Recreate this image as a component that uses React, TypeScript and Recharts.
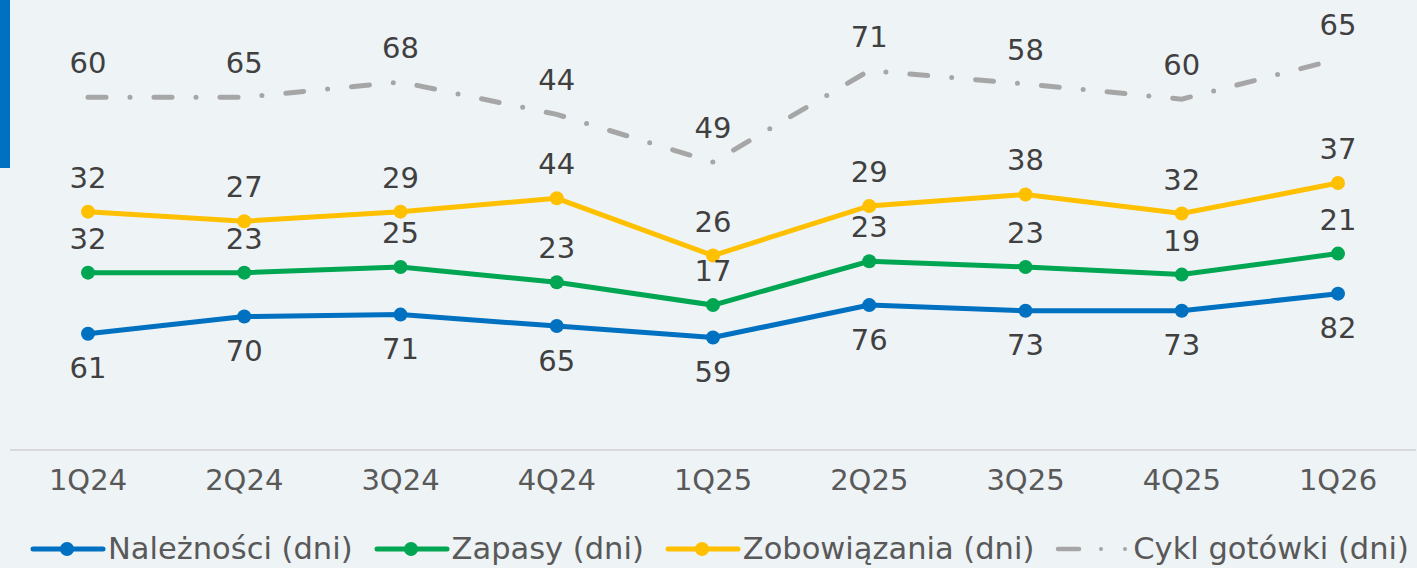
import React from "react";
import { AreaChart, Area, XAxis, YAxis, LabelList, Legend } from "recharts";

const quarters = ["1Q24", "2Q24", "3Q24", "4Q24", "1Q25", "2Q25", "3Q25", "4Q25", "1Q26"];
const receivables = [61, 70, 71, 65, 59, 76, 73, 73, 82];
const inventory = [32, 23, 25, 23, 17, 23, 23, 19, 21];
const payables = [32, 27, 29, 44, 26, 29, 38, 32, 37];
const cashCycle = [60, 65, 68, 44, 49, 71, 58, 60, 65];

const FONT = "'DejaVu Sans', sans-serif";
const BG = "#eef3f6";
const BLUE = "#0070c0";
const GREEN = "#00a651";
const YELLOW = "#ffc000";
const GRAY = "#a6a6a6";

const data = quarters.map((q, i) => ({
  q,
  rec: receivables[i],
  inv: inventory[i],
  pay: payables[i],
  cyc: cashCycle[i],
}));

const legendItems = [
  { name: "Należności (dni)", color: BLUE, kind: "dot" },
  { name: "Zapasy (dni)", color: GREEN, kind: "dot" },
  { name: "Zobowiązania (dni)", color: YELLOW, kind: "dot" },
  { name: "Cykl gotówki (dni)", color: GRAY, kind: "dash" },
];

const LegendContent = () => (
  <div style={{ display: "flex", alignItems: "flex-end", height: 68, paddingLeft: 30, boxSizing: "border-box", paddingBottom: 2 }}>
    {legendItems.map((it) => (
      <div key={it.name} style={{ display: "flex", alignItems: "center", marginRight: 21 }}>
        <svg width={76} height={20}>
          {it.kind === "dot" ? (
            <>
              <line x1={3} y1={10} x2={73} y2={10} stroke={it.color} strokeWidth={5} strokeLinecap="round" />
              <circle cx={37} cy={10} r={7} fill={it.color} />
            </>
          ) : (
            <>
              <line x1={3} y1={10} x2={24} y2={10} stroke={it.color} strokeWidth={4.5} strokeLinecap="round" />
              <circle cx={46} cy={10} r={2} fill={it.color} />
              <circle cx={70} cy={10} r={2} fill={it.color} />
            </>
          )}
        </svg>
        <span style={{ fontFamily: FONT, fontSize: 30.5, lineHeight: "34px", color: "#595959", marginLeft: 2, whiteSpace: "nowrap" }}>
          {it.name}
        </span>
      </div>
    ))}
  </div>
);

const labelStyle = { fill: "#404040", fontSize: 29, fontFamily: FONT };

const makeDot = (color: string) => (p: any) => (
  <circle key={`d-${p.index}`} cx={p.cx} cy={p.cy} r={7} fill={color} />
);

export default function App() {
  return (
    <div style={{ position: "absolute", left: 0, top: 0, width: 1417, height: 568, background: BG, overflow: "hidden" }}>
      <div style={{ position: "absolute", left: 0, top: 0, width: 10, height: 168, background: BLUE }} />
      <AreaChart width={1417} height={568} data={data} margin={{ top: 0, right: 1, left: 10, bottom: 0 }}>
        <XAxis
          dataKey="q"
          height={50}
          padding={{ left: 78, right: 78 }}
          tickLine={false}
          tickSize={0}
          tickMargin={19}
          axisLine={{ stroke: "#d9d9d9", strokeWidth: 2 }}
          tick={{ fill: "#595959", fontSize: 29, fontFamily: FONT }}
        />
        <YAxis hide domain={[0, 236]} />
        <Legend
          verticalAlign="bottom"
          content={<LegendContent />}
          wrapperStyle={{ left: 0, width: 1417, height: 68 }}
        />
        <Area
          type="linear"
          dataKey="rec"
          stackId="s"
          stroke={BLUE}
          strokeWidth={5}
          fill="none"
          dot={makeDot(BLUE)}
          activeDot={false}
          isAnimationActive={false}
        >
          <LabelList dataKey="rec" position="bottom" offset={24} style={labelStyle} />
        </Area>
        <Area
          type="linear"
          dataKey="inv"
          stackId="s"
          stroke={GREEN}
          strokeWidth={5}
          fill="none"
          dot={makeDot(GREEN)}
          activeDot={false}
          isAnimationActive={false}
        >
          <LabelList dataKey="inv" position="top" offset={24} style={labelStyle} />
        </Area>
        <Area
          type="linear"
          dataKey="pay"
          stackId="s"
          stroke={YELLOW}
          strokeWidth={5}
          fill="none"
          dot={makeDot(YELLOW)}
          activeDot={false}
          isAnimationActive={false}
        >
          <LabelList dataKey="pay" position="top" offset={24} style={labelStyle} />
        </Area>
        <Area
          type="linear"
          dataKey="cyc"
          stackId="s"
          stroke={GRAY}
          strokeWidth={5}
          strokeDasharray="18 24 0 24"
          strokeLinecap="round"
          fill="none"
          dot={false}
          activeDot={false}
          isAnimationActive={false}
        >
          <LabelList dataKey="cyc" position="top" offset={24} style={labelStyle} />
        </Area>
      </AreaChart>
    </div>
  );
}
